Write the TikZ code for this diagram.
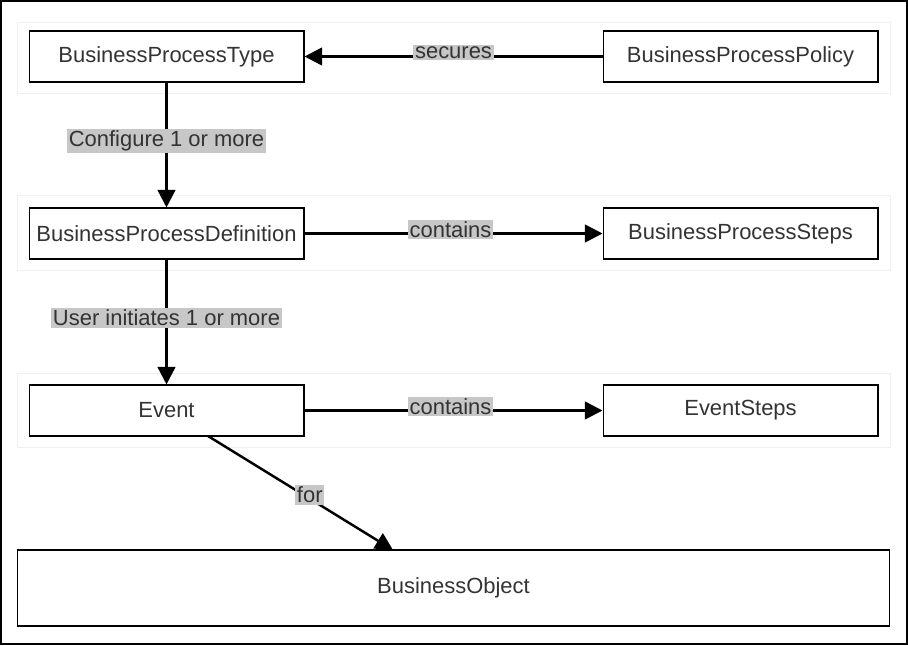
\documentclass[tikz,border=0pt]{standalone}
\usepackage{fontspec}
\setmainfont{Liberation Sans}
\usetikzlibrary{positioning}
\usetikzlibrary{arrows.meta}

\tikzset{
  entity/.style={draw, line width=0.6pt, minimum width=5.5cm, minimum height=1.02cm, inner sep=0pt, font=\fontsize{12.5}{14}\selectfont, text=black!80},
  lane/.style={draw=black!6, line width=0.5pt},
  rel/.style={-{Triangle[length=10pt,width=10pt]}, line width=1.4pt},
  tag/.style={fill=black!22, inner sep=1pt, yshift=0.08cm, font=\fontsize{12.5}{14}\selectfont, text=black!80}
}

\begin{document}
\begin{tikzpicture}[x=0.02cm, y=-0.02cm]
\useasboundingbox (0,0) rectangle (908,645);
\draw[line width=0.8pt] (1,1) rectangle (907,644);
% lanes
\draw[lane] (17,22) rectangle (890,93);
\draw[lane] (17,195) rectangle (890,270);
\draw[lane] (17,373) rectangle (890,447);

\node[entity] (type) at (166.5,56.5) {BusinessProcessType};
\node[entity] (policy) at (740.5,56.5) {BusinessProcessPolicy};
\node[entity] (definition) at (166.5,233.5) {BusinessProcessDefinition};
\node[entity] (steps) at (740.5,233.5) {BusinessProcessSteps};
\node[entity] (event) at (166.5,410.5) {Event};
\node[entity] (eventsteps) at (740.5,410.5) {EventSteps};
\node[entity, minimum width=17.46cm, minimum height=1.52cm] (object) at (453.5,588) {BusinessObject};

\draw[rel] (policy) -- node[tag, pos=0.5] {secures} (type);
\draw[rel] (type) -- node[tag] {Configure 1 or more} (definition);
\draw[rel] (definition) -- node[tag, pos=0.49] {contains} (steps);
\draw[rel] (definition) -- node[tag] {User initiates 1 or more} (event);
\draw[rel] (event) -- node[tag, pos=0.49] {contains} (eventsteps);
\coordinate (objtop) at (393,550);
\draw[rel] (208,436) -- node[tag, pos=0.55] {for} (objtop);
\end{tikzpicture}
\end{document}
